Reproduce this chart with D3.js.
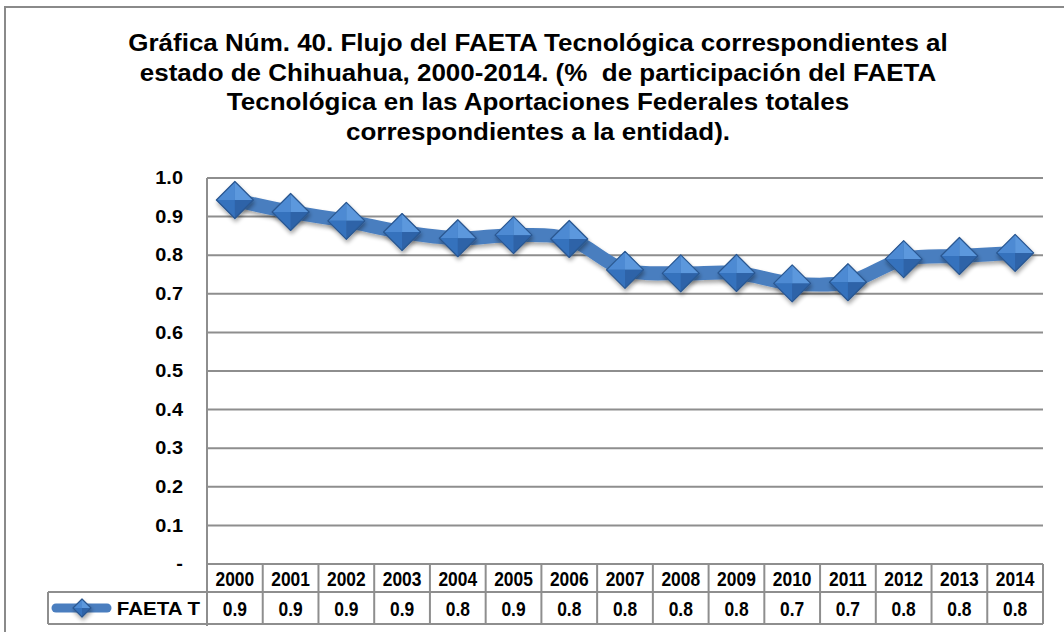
<!DOCTYPE html>
<html>
<head>
<meta charset="utf-8">
<script src="https://cdn.jsdelivr.net/npm/d3@7"></script>
<style>
  html, body { margin: 0; padding: 0; background: #fff; }
  svg { display: block; font-family: "Liberation Sans", Arial, sans-serif; }
</style>
</head>
<body>
<svg id="chart" width="1064" height="632"></svg>
<script>
// Share of FAETA Tecnológica in total federal contributions to Chihuahua
const years = ["2000","2001","2002","2003","2004","2005","2006","2007","2008","2009","2010","2011","2012","2013","2014"];
const faetaT = [0.943,0.912,0.889,0.860,0.844,0.852,0.842,0.762,0.753,0.754,0.727,0.730,0.790,0.798,0.806];
const yTicks = [0,0.1,0.2,0.3,0.4,0.5,0.6,0.7,0.8,0.9,1.0];
const seriesName = "FAETA T";
const titleLines = [
  "Gráfica Núm. 40. Flujo del FAETA Tecnológica correspondientes al",
  "estado de Chihuahua, 2000-2014. (%  de participación del FAETA",
  "Tecnológica en las Aportaciones Federales totales",
  "correspondientes a la entidad)."
];

const svg = d3.select("#chart");
const gridColor = "#8e8e8e";
const lineColor = "#4a7ebf";

// plot frame
const plotL = 207, plotR = 1043, plotT = 178, plotB = 564;
const rowH = 30;

const x = d3.scaleBand().domain(years).range([plotL, plotR]);
const y = d3.scaleLinear().domain([0, 1]).range([plotB, plotT]);

// defs: soft drop shadow
const defs = svg.append("defs");
const sh = defs.append("filter").attr("id", "shadow")
  .attr("x", "-50%").attr("y", "-50%").attr("width", "200%").attr("height", "200%");
sh.append("feGaussianBlur").attr("in", "SourceAlpha").attr("stdDeviation", 2.2);
sh.append("feOffset").attr("dx", 1).attr("dy", 3).attr("result", "ob");
sh.append("feComponentTransfer").append("feFuncA").attr("type", "linear").attr("slope", 0.35);
const m = sh.append("feMerge");
m.append("feMergeNode");
m.append("feMergeNode").attr("in", "SourceGraphic");

// outer chart border
svg.append("rect")
  .attr("x", 5).attr("y", 7).attr("width", 1080).attr("height", 640)
  .attr("fill", "none").attr("stroke", "#8a8a8a").attr("stroke-width", 2);

// title (wide bold face)
const titleCx = 538;
svg.append("g").attr("transform", `translate(${titleCx},0) scale(1.13,1)`)
  .selectAll("text").data(titleLines).join("text")
  .attr("x", 0).attr("y", (d, i) => 51 + i * 29.7)
  .attr("text-anchor", "middle")
  .attr("font-size", 23).attr("font-weight", "bold").attr("fill", "#000")
  .style("white-space", "pre")
  .text(d => d);

// horizontal gridlines
svg.append("g").selectAll("line").data(yTicks.filter(d => d > 0)).join("line")
  .attr("x1", plotL).attr("x2", plotR)
  .attr("y1", d => y(d)).attr("y2", d => y(d))
  .attr("stroke", gridColor).attr("stroke-width", 2);

// y axis labels
const yAxis = d3.axisLeft(y).tickValues(yTicks)
  .tickFormat(d => d === 0 ? "-" : d3.format(".1f")(d))
  .tickSize(0);
const ya = svg.append("g").attr("transform", `translate(${plotL},0)`).call(yAxis);
ya.select(".domain").remove();
ya.selectAll("text")
  .attr("x", 0)
  .attr("transform", "translate(-24,0) scale(1.14,1)")
  .attr("font-size", 17.5).attr("font-weight", "bold").attr("fill", "#000")
  .attr("font-family", "'Liberation Sans', Arial, sans-serif");

// plot left edge
svg.append("line")
  .attr("x1", plotL).attr("x2", plotL).attr("y1", plotT).attr("y2", plotB + 2 * rowH + 2)
  .attr("stroke", gridColor).attr("stroke-width", 2);

// data table
const tbl = svg.append("g");
const legendLeft = 48;
const r0 = plotB, r1 = plotB + rowH - 2, r2 = plotB + 2 * rowH;
tbl.append("line").attr("x1", plotL).attr("x2", plotR).attr("y1", r0).attr("y2", r0)
  .attr("stroke", gridColor).attr("stroke-width", 2);
tbl.append("line").attr("x1", legendLeft).attr("x2", plotR).attr("y1", r1).attr("y2", r1)
  .attr("stroke", gridColor).attr("stroke-width", 2);
tbl.append("line").attr("x1", legendLeft).attr("x2", plotR).attr("y1", r2).attr("y2", r2)
  .attr("stroke", gridColor).attr("stroke-width", 2);
tbl.append("line").attr("x1", legendLeft).attr("x2", legendLeft).attr("y1", r1).attr("y2", r2)
  .attr("stroke", gridColor).attr("stroke-width", 2);
tbl.selectAll("line.col").data(years).join("line").attr("class", "col")
  .attr("x1", d => x(d) + x.bandwidth()).attr("x2", d => x(d) + x.bandwidth())
  .attr("y1", r0).attr("y2", r2)
  .attr("stroke", gridColor).attr("stroke-width", 2);

// cell text: tall bold face
const cellText = (sel, cx, cy) => sel
  .attr("transform", (d, i) => `translate(${cx(d, i)},${cy}) scale(0.87,1)`)
  .attr("text-anchor", "middle").attr("font-size", 20).attr("font-weight", "bold");

tbl.selectAll("text.yr").data(years).join("text").attr("class", "yr")
  .call(cellText, d => x(d) + x.bandwidth() / 2, (r0 + r1) / 2 + 7.5)
  .text(d => d);
tbl.selectAll("text.val").data(faetaT).join("text").attr("class", "val")
  .call(cellText, (d, i) => x(years[i]) + x.bandwidth() / 2, (r1 + r2) / 2 + 7.5)
  .text(d => d3.format(".1f")(d));

// diamond marker drawn as four shaded facets
function diamond(g, cx, cy, r) {
  const T = [cx, cy - r], R = [cx + r, cy], B = [cx, cy + r], L = [cx - r, cy], C = [cx, cy];
  const p = pts => "M" + pts.map(q => q.join(",")).join("L") + "Z";
  const d = g.append("g").attr("filter", "url(#shadow)");
  d.append("path").attr("d", p([L, T, R, B])).attr("fill", "#3a6fb0");
  d.append("path").attr("d", p([L, T, C])).attr("fill", "#4d8ad3");
  d.append("path").attr("d", p([T, R, C])).attr("fill", "#5b98dd");
  d.append("path").attr("d", p([L, C, B])).attr("fill", "#3572bd");
  d.append("path").attr("d", p([C, R, B])).attr("fill", "#2d63a8");
  d.append("path").attr("d", p([L, T, R, B])).attr("fill", "none")
    .attr("stroke", "#2a5790").attr("stroke-width", 1.2).attr("stroke-linejoin", "round");
}

// series line
const line = d3.line()
  .x((d, i) => x(years[i]) + x.bandwidth() / 2)
  .y(d => y(d))
  .curve(d3.curveCatmullRom.alpha(0.5));
svg.append("path").datum(faetaT)
  .attr("d", line).attr("fill", "none")
  .attr("stroke", lineColor).attr("stroke-width", 14)
  .attr("stroke-linejoin", "round").attr("stroke-linecap", "round")
  .attr("filter", "url(#shadow)");

const mk = svg.append("g");
faetaT.forEach((v, i) => diamond(mk, x(years[i]) + x.bandwidth() / 2, y(v), 18.5));

// legend key in table
const ly = (r1 + r2) / 2;
svg.append("line").attr("x1", 56).attr("x2", 107).attr("y1", ly).attr("y2", ly)
  .attr("stroke", lineColor).attr("stroke-width", 9).attr("stroke-linecap", "round");
diamond(svg.append("g"), 82, ly, 9);
svg.append("text")
  .attr("transform", `translate(200,${ly + 7}) scale(1.08,1)`)
  .attr("text-anchor", "end")
  .attr("font-size", 19).attr("font-weight", "bold").text(seriesName);
</script>
</body>
</html>
